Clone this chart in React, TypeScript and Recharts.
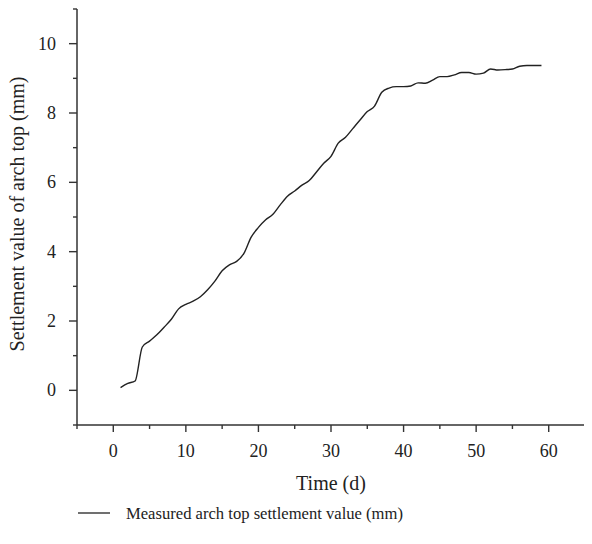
import React from 'react';
import { LineChart, Line, XAxis, YAxis, Legend } from 'recharts';

const days = [1,2,3,4,5,6,7,8,9,10,11,12,13,14,15,16,17,18,19,20,21,22,23,24,25,26,27,28,29,30,31,32,33,34,35,36,37,38,39,40,41,42,43,44,45,46,47,48,49,50,51,52,53,54,55,56,57,58,59];
const settlement = [0.08,0.2,0.27,1.25,1.42,1.6,1.82,2.05,2.35,2.48,2.57,2.7,2.9,3.15,3.45,3.62,3.72,3.95,4.42,4.7,4.92,5.08,5.35,5.6,5.75,5.92,6.05,6.3,6.55,6.75,7.13,7.3,7.55,7.8,8.04,8.2,8.6,8.72,8.76,8.76,8.78,8.87,8.86,8.95,9.05,9.05,9.1,9.17,9.17,9.12,9.15,9.27,9.24,9.25,9.27,9.35,9.37,9.37,9.37];
const xTicks = [-5,0,5,10,15,20,25,30,35,40,45,50,55,60,65];
const xLabels = [0,10,20,30,40,50,60];
const yTicks = [-1,0,1,2,3,4,5,6,7,8,9,10,11];
const yLabels = [0,2,4,6,8,10];
const seriesName = 'Measured arch top settlement value (mm)';

const data = days.map((d, i) => ({ day: d, value: settlement[i] }));

const FONT = '"Liberation Serif", "DejaVu Serif", serif';
const AXIS = '#333';

const XTick = (props: any) => {
  const { x, y, payload } = props;
  const v = payload.value;
  const major = xLabels.includes(v);
  return (
    <g>
      <line x1={x} x2={x} y1={y} y2={y + (major ? 7 : 4)} stroke={AXIS} strokeWidth={1.4} />
      {major && (
        <text x={x} y={y + 32} textAnchor="middle" fontFamily={FONT} fontSize={18} fill="#222">{v}</text>
      )}
    </g>
  );
};

const YTick = (props: any) => {
  const { x, y, payload } = props;
  const v = payload.value;
  const major = yLabels.includes(v);
  return (
    <g>
      <line x1={x} x2={x - (major ? 8 : 4)} y1={y} y2={y} stroke={AXIS} strokeWidth={1.4} />
      {major && (
        <text x={x - 21} y={y + 6} textAnchor="end" fontFamily={FONT} fontSize={18} fill="#222">{v}</text>
      )}
    </g>
  );
};

const LegendContent = () => (
  <svg width={420} height={24} style={{ display: 'block' }}>
    <line x1={70} x2={102} y1={12} y2={12} stroke="#222" strokeWidth={1.3} />
    <text x={118} y={17.5} fontFamily={FONT} fontSize={16.6} fill="#222">{seriesName}</text>
  </svg>
);

export default function App() {
  return (
    <div style={{ width: 592, height: 544, marginLeft: -8, marginTop: -8 }}>
      <LineChart width={592} height={544} data={data} margin={{ top: 9, right: 7, left: 17, bottom: 0 }}>
        <XAxis
          dataKey="day"
          type="number"
          domain={[-5, 65]}
          ticks={xTicks}
          interval={0}
          tickSize={0}
          tickMargin={0}
          tickLine={false}
          tick={<XTick />}
          axisLine={{ stroke: AXIS, strokeWidth: 1.5 }}
          height={95}
          label={(p: any) => {
            const vb = p.viewBox;
            return (
              <text x={vb.x + vb.width / 2} y={vb.y + 65} textAnchor="middle" fontFamily={FONT} fontSize={20} fill="#222">Time (d)</text>
            );
          }}
        />
        <YAxis
          type="number"
          domain={[-1, 11]}
          ticks={yTicks}
          interval={0}
          tickSize={0}
          tickMargin={0}
          tickLine={false}
          tick={<YTick />}
          axisLine={{ stroke: AXIS, strokeWidth: 1.5 }}
          width={60}
          label={() => (
            <text x={17} y={214} transform="rotate(-90 17 214)" textAnchor="middle" dominantBaseline="central" fontFamily={FONT} fontSize={20} fill="#222">Settlement value of arch top (mm)</text>
          )}
        />
        <Legend
          content={<LegendContent />}
          wrapperStyle={{ position: 'absolute', left: 8, top: 501, width: 420, height: 24 }}
        />
        <Line
          type="monotone"
          dataKey="value"
          name={seriesName}
          stroke="#222"
          strokeWidth={1.4}
          dot={false}
          isAnimationActive={false}
        />
      </LineChart>
    </div>
  );
}
